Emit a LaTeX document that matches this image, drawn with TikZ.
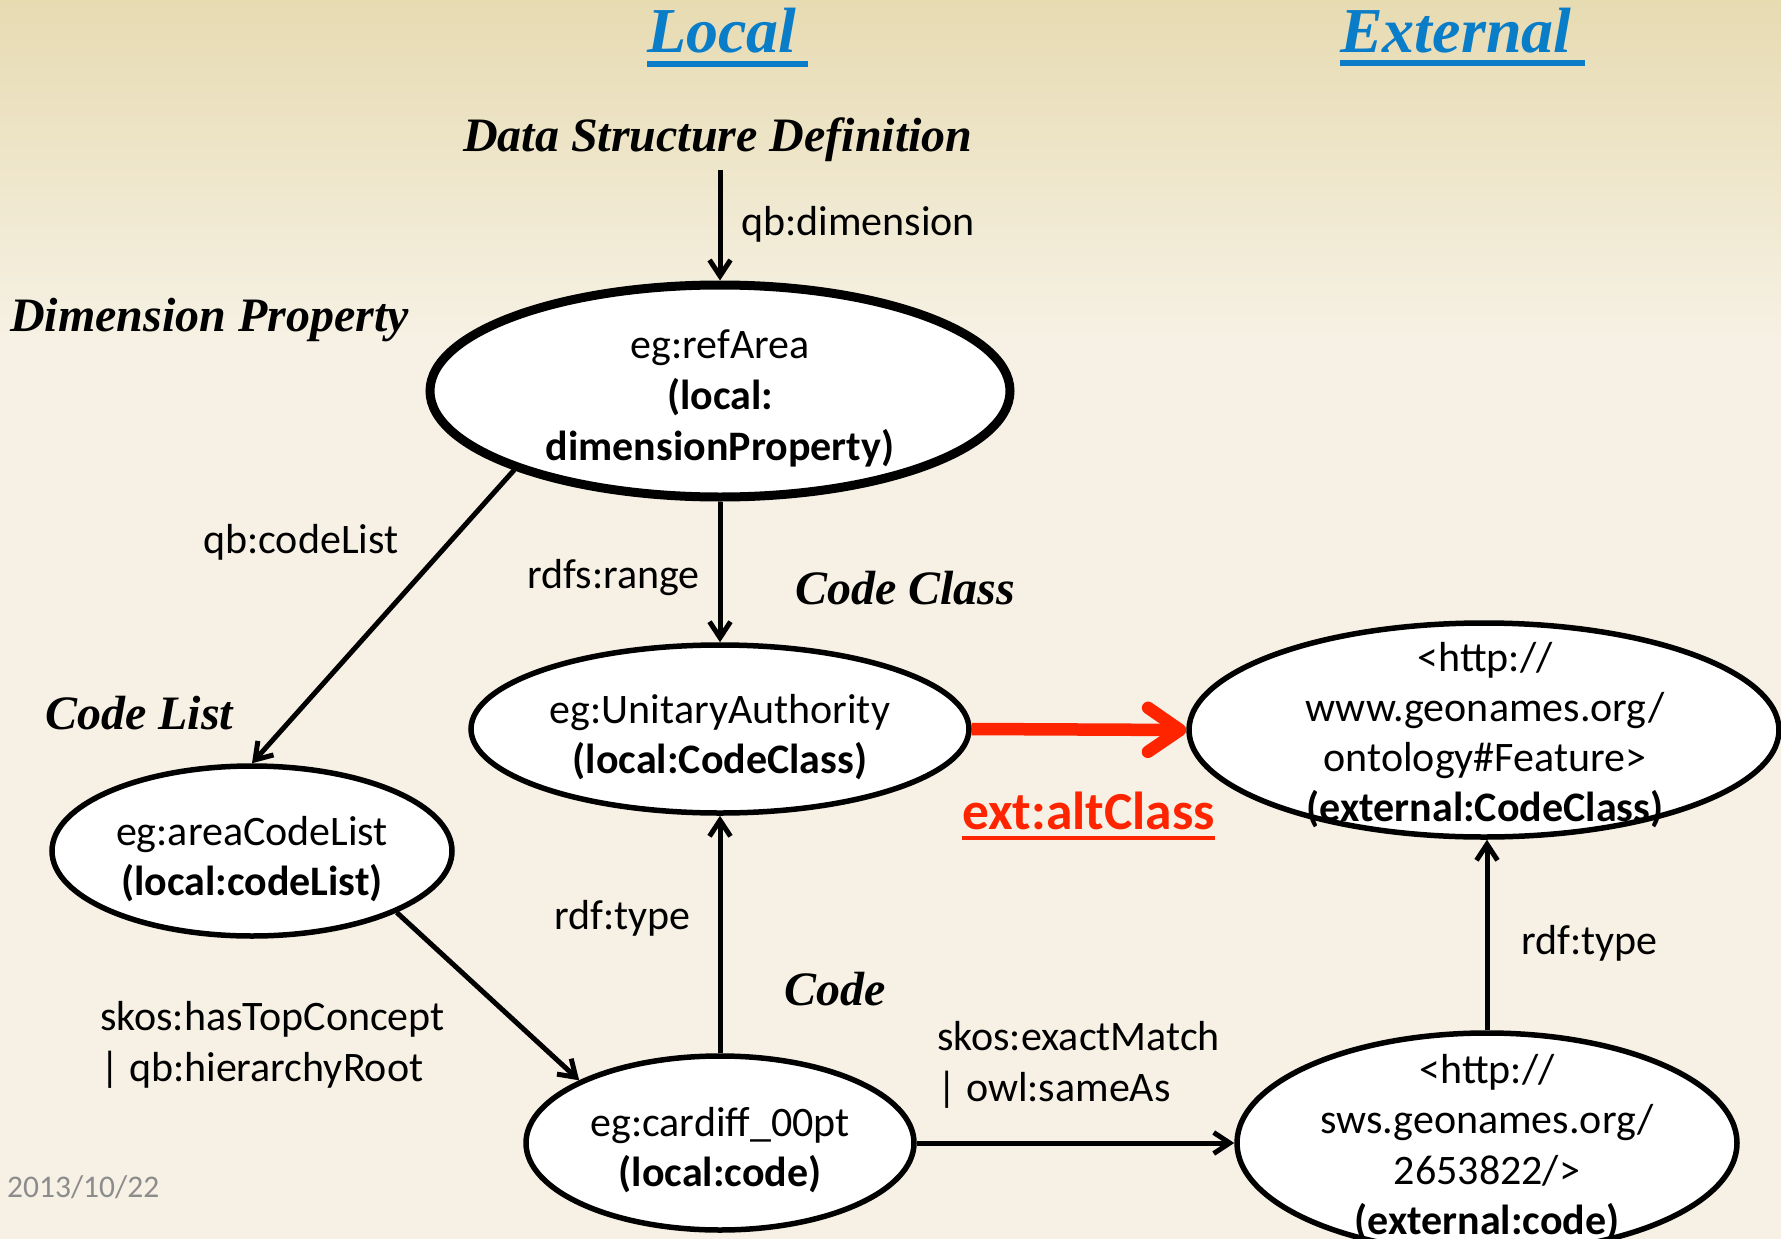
\documentclass[tikz,border=0pt]{standalone}
\usepackage{fontspec}
\setmainfont{Carlito}
\newfontfamily\headfont{Liberation Serif}
\usetikzlibrary{arrows.meta,shapes.geometric}

\definecolor{bgtop}{HTML}{E7DBB2}
\definecolor{bgbottom}{HTML}{F6F1E4}
\definecolor{titleblue}{HTML}{0A7DC9}
\definecolor{altred}{HTML}{FF2400}
\definecolor{dategray}{HTML}{8C8C8C}

% centred / left-aligned stacks of lines, baseline on the first line
\newcommand\centerlines[1]{\vtop{\lineskiplimit=-100pt\halign{\hfil##\hfil\cr#1\crcr}}}
\newcommand\leftlines[1]{\vtop{\lineskiplimit=-100pt\halign{##\hfil\cr#1\crcr}}}

\begin{document}
\begin{tikzpicture}[x=1pt,y=-1pt,
  every node/.style={inner sep=0pt},
  bodytext/.style={font=\fontsize{42}{50}\selectfont, anchor=base},
  edgelabel/.style={font=\fontsize{42}{51}\selectfont, anchor=base west},
  heading/.style={font=\fontsize{48}{56}\selectfont\headfont\bfseries\itshape, anchor=base west},
  column/.style={font=\fontsize{64}{72}\selectfont\headfont\bfseries\itshape, text=titleblue, anchor=base west},
  concept/.style={ellipse, draw, fill=white, line width=5.5pt},
  link/.style={line width=5pt, -{Straight Barb[length=16pt,width=21pt]}},
  altlink/.style={altred, line width=12.5pt, -{Straight Barb[length=32pt,width=44pt,round]}},
]
\useasboundingbox (0,0) rectangle (1781,1239);
\clip (0,0) rectangle (1781,1239);

% background
\fill[bgbottom] (0,0) rectangle (1781,1239);
\shade[top color=bgtop, bottom color=bgbottom] (0,0) rectangle (1781,340);

% column titles
\node[column] (local) at (647,53) {Local};
\draw[titleblue, line width=6pt] ([yshift=-11pt]local.base west) -- ([yshift=-11pt,xshift=11pt]local.base east);
\node[column] (external) at (1340,53) {External};
\draw[titleblue, line width=6pt] ([yshift=-10pt]external.base west) -- ([yshift=-10pt,xshift=13pt]external.base east);

% headings
\node[heading] (dsd) at (463,151) {Data Structure Definition};
\node[heading] (dimProp) at (10,331) {Dimension Property};
\node[heading] (codeClassHead) at (795,604) {Code Class};
\node[heading] (codeListHead) at (45,729) {Code List};
\node[heading] (codeHead) at (784,1005) {Code};

% concepts
\node[concept, line width=9pt, minimum width=580pt, minimum height=212pt] (refArea) at (720,391) {};
\node[concept, minimum width=498pt, minimum height=168pt] (unitary) at (720,729) {};
\node[concept, minimum width=590pt, minimum height=214pt] (extClass) at (1484,730) {};
\node[concept, minimum width=400pt, minimum height=170pt] (codeList) at (252,851) {};
\node[concept, minimum width=388pt, minimum height=174pt] (cardiff) at (720,1143) {};
\node[concept, minimum width=500pt, minimum height=220pt] (extCode) at (1487,1143) {};

% concept texts
\node[bodytext, font=\fontsize{42}{51}\selectfont] (refAreaText) at (720,358)
  {\centerlines{eg:refArea\cr\bfseries(local:\cr\bfseries dimensionProperty)}};
\node[bodytext] (unitaryText) at (720,723)
  {\centerlines{eg:UnitaryAuthority\cr\bfseries(local:CodeClass)}};
\node[bodytext] (extClassText) at (1485,671)
  {\centerlines{<http://\cr www.geonames.org/\cr ontology\#Feature>\cr\bfseries(external:CodeClass)}};
\node[bodytext] (codeListText) at (252,845)
  {\centerlines{eg:areaCodeList\cr\bfseries(local:codeList)}};
\node[bodytext] (cardiffText) at (720,1136)
  {\centerlines{eg:cardiff\_00pt\cr\bfseries(local:code)}};
\node[bodytext, font=\fontsize{42}{50.5}\selectfont] (extCodeText) at (1487,1083)
  {\centerlines{<http://\cr sws.geonames.org/\cr 2653822/>\cr\bfseries(external:code)}};

% connectors
\coordinate (dsdFoot) at (720,170);
\draw[link] (dsdFoot) -- (refArea.north);
\draw[link] (refArea.south) -- (unitary.north);
\draw[link] (refArea.201) -- (codeList.north);
\draw[link] (codeList.-23) -- (cardiff.156);
\draw[link] (cardiff.north) -- (unitary.south);
\draw[link] (cardiff.east) -- (extCode.west);
\draw[link] (extCode.north) -- (extCode.north |- extClass.south);
\draw[altlink] (unitary.east) -- (extClass.west);

% connector labels
\node[edgelabel] (lblDimension) at (741,235) {qb:dimension};
\node[edgelabel] (lblRange) at (527,588) {rdfs:range};
\node[edgelabel] (lblCodeList) at (203,553) {qb:codeList};
\node[edgelabel] (lblTop) at (100,1030) {\leftlines{skos:hasTopConcept\cr| qb:hierarchyRoot}};
\node[edgelabel] (lblTypeLocal) at (554,929) {rdf:type};
\node[edgelabel] (lblMatch) at (937,1050) {\leftlines{skos:exactMatch\cr| owl:sameAs}};
\node[edgelabel] (lblTypeExt) at (1521,954) {rdf:type};
\node[anchor=base west, font=\fontsize{53.5}{60}\selectfont\bfseries, text=altred] (lblAlt) at (962,829) {ext:altClass};
\draw[altred, line width=4pt] ([yshift=-9pt]lblAlt.base west) -- ([yshift=-9pt]lblAlt.base east);

% footer date
\node[anchor=base west, font=\fontsize{31.5}{36}\selectfont, text=dategray] (date) at (7,1197) {2013/10/22};
\end{tikzpicture}
\end{document}
